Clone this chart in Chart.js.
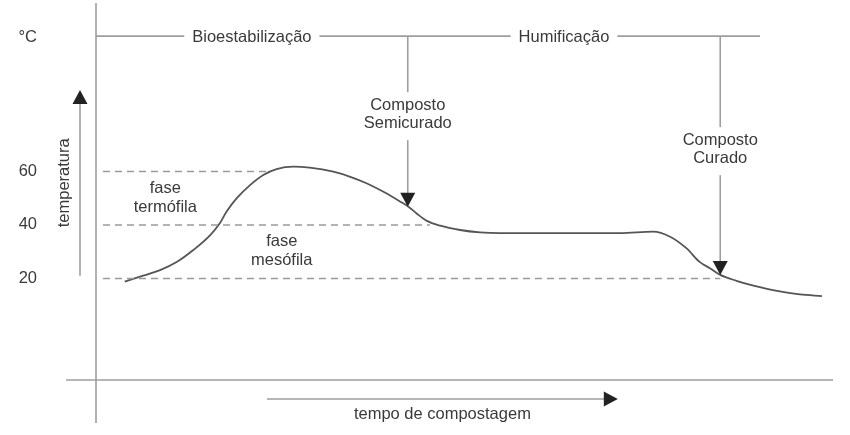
<!DOCTYPE html>
<html><head><meta charset="utf-8">
<script src="https://cdn.jsdelivr.net/npm/chart.js@4.4.0/dist/chart.umd.min.js"></script>
<style>html,body{margin:0;padding:0;background:#fff}#wrap{width:850px;height:435px;position:relative}</style>
</head><body><div id="wrap"><canvas id="c"></canvas></div>
<script>
// ---- data ----
const timeUnits   = [3.9, 6.4, 8.7, 11.0, 13.2, 15.5, 16.8, 17.7, 19.1, 20.9, 22.7, 24.5, 26.8, 29.0, 32.2, 34.5, 36.7, 39.0, 41.3, 42.4, 43.5, 44.9, 46.7, 49.4, 52.1, 54.8, 63.0, 71.1, 75.6, 77.9, 80.1, 81.9, 83.3, 84.7, 86.9, 89.2, 92.4, 95.5, 98.5];
const temperature = [18.8, 21.0, 23.1, 26.2, 30.6, 36.2, 40.6, 44.9, 50.0, 54.9, 58.7, 60.9, 61.8, 61.4, 59.9, 58.0, 55.6, 52.4, 48.7, 46.8, 44.3, 41.5, 39.7, 38.1, 37.2, 36.9, 36.9, 36.9, 37.5, 35.6, 31.3, 26.2, 23.8, 21.3, 19.1, 17.3, 15.3, 14.0, 13.4];
const tickValues  = [20, 40, 60];
const refLevels   = [60, 40, 20];
const refStart    = 0.95;
const refEnds     = [23.6, 45.3, 84.7];
const phaseNames  = ['Bioestabilização', 'Humificação'];
const phaseBounds = [0, 42.3, 84.7];
const phaseLineEnd = 90.1;
const phaseLevel  = 110.6;
const markerNames = [['Composto', 'Semicurado'], ['Composto', 'Curado']];
const markerTimes = [42.3, 84.7];
const markerTips  = [46.8, 21.3];
const stageNames  = [['fase', 'termófila'], ['fase', 'mesófila']];
const stageTimes  = [9.4, 25.2];
const stageTemps  = [50.2, 30.3];
const yUnit  = '°C';
const yTitle = 'temperatura';
const xTitle = 'tempo de compostagem';
const yArrowRange = [21, 90.5];
const xArrowRange = [23.2, 70.8];

// ---- styling ----
const FONT = '16.5px "Liberation Sans", Arial, sans-serif';
const TEXT = '#3a3a3a';
const AXIS = '#9e9e9e';
const HEAD = '#222';

Chart.defaults.font.family = '"Liberation Sans", Arial, sans-serif';
Chart.defaults.font.size = 16.5;

function seg(ctx, x1, y1, x2, y2){ ctx.beginPath(); ctx.moveTo(x1,y1); ctx.lineTo(x2,y2); ctx.stroke(); }
function tri(ctx, tx, ty, dir){
  const L = 14, W = 7.5;
  ctx.beginPath();
  if(dir==='down'){ ctx.moveTo(tx,ty); ctx.lineTo(tx-W,ty-L); ctx.lineTo(tx+W,ty-L); }
  if(dir==='up'){ ctx.moveTo(tx,ty); ctx.lineTo(tx-W,ty+L); ctx.lineTo(tx+W,ty+L); }
  if(dir==='right'){ ctx.moveTo(tx,ty); ctx.lineTo(tx-L,ty-W); ctx.lineTo(tx-L,ty+W); }
  ctx.closePath(); ctx.fill();
}

const deco = {
  id: 'deco',
  beforeDatasetsDraw(chart){
    const {ctx, chartArea:a, scales:{x, y}} = chart;
    ctx.save();
    ctx.strokeStyle = AXIS; ctx.lineWidth = 1.6;
    const x0 = x.getPixelForValue(0);
    const yb = y.getPixelForValue(y.min);
    seg(ctx, x0, a.top, x0, yb + 43);
    seg(ctx, x0 - 30, yb, a.right, yb);
    ctx.restore();
  },
  afterDatasetsDraw(chart){
    const {ctx, scales:{x, y}} = chart;
    ctx.save();
    ctx.font = FONT; ctx.fillStyle = TEXT; ctx.textAlign = 'center'; ctx.textBaseline = 'middle';
    ctx.strokeStyle = AXIS; ctx.lineWidth = 1.6;
    const x0 = x.getPixelForValue(0);
    const yb = y.getPixelForValue(y.min);
    const yp = y.getPixelForValue(phaseLevel);

    // phase line with labels
    let cursor = x0;
    phaseNames.forEach((name, i) => {
      const cx = x.getPixelForValue((phaseBounds[i] + phaseBounds[i+1]) / 2);
      const w = ctx.measureText(name).width;
      seg(ctx, cursor, yp, cx - w/2 - 8, yp);
      ctx.fillText(name, cx, yp + 1);
      cursor = cx + w/2 + 8;
    });
    seg(ctx, cursor, yp, x.getPixelForValue(phaseLineEnd), yp);

    // markers
    const labelOffsets = [78, 113];
    markerNames.forEach((lines, i) => {
      const mx = x.getPixelForValue(markerTimes[i]);
      const tip = y.getPixelForValue(markerTips[i]);
      const cy = yp + labelOffsets[i];
      const top = cy - 9 - 13, bot = cy + 9 + 17;
      ctx.strokeStyle = AXIS;
      seg(ctx, mx, yp, mx, top);
      seg(ctx, mx, bot, mx, tip - 10);
      ctx.fillStyle = TEXT;
      ctx.fillText(lines[0], mx, cy - 9);
      ctx.fillText(lines[1], mx, cy + 9.5);
      ctx.fillStyle = HEAD;
      tri(ctx, mx, tip, 'down');
    });

    // stage labels
    ctx.fillStyle = TEXT;
    stageNames.forEach((lines, i) => {
      const sx = x.getPixelForValue(stageTimes[i]);
      const sy = y.getPixelForValue(stageTemps[i]);
      ctx.fillText(lines[0], sx, sy - 9.5);
      ctx.fillText(lines[1], sx, sy + 9.5);
    });

    // temperature arrow
    const ax = x0 - 16;
    const ay1 = y.getPixelForValue(yArrowRange[0]), ay2 = y.getPixelForValue(yArrowRange[1]);
    ctx.strokeStyle = AXIS;
    seg(ctx, ax, ay1, ax, ay2 + 8);
    ctx.fillStyle = HEAD; tri(ctx, ax, ay2, 'up');
    ctx.fillStyle = TEXT;
    ctx.save();
    ctx.translate(ax - 16, (ay1 + ay2) / 2);
    ctx.rotate(-Math.PI / 2);
    ctx.fillText(yTitle, 0, 0);
    ctx.restore();

    // unit
    ctx.textAlign = 'right';
    ctx.fillText(yUnit, x0 - 59, yp + 1);
    ctx.textAlign = 'center';

    // time arrow
    const tx1 = x.getPixelForValue(xArrowRange[0]), tx2 = x.getPixelForValue(xArrowRange[1]);
    const ty = yb + 19;
    ctx.strokeStyle = AXIS;
    seg(ctx, tx1, ty, tx2 - 8, ty);
    ctx.fillStyle = HEAD; tri(ctx, tx2, ty, 'right');
    ctx.fillStyle = TEXT;
    ctx.fillText(xTitle, (tx1 + tx2) / 2, ty + 15);
    ctx.restore();
  }
};

const datasets = refLevels.map((lvl, i) => ({
  data: [{x: refStart, y: lvl}, {x: refEnds[i], y: lvl}],
  borderColor: '#9a9a9a', borderWidth: 1.5, borderDash: [7, 5], pointRadius: 0, tension: 0
}));
datasets.push({
  data: timeUnits.map((t, i) => ({x: t, y: temperature[i]})),
  borderColor: '#555', borderWidth: 1.8, pointRadius: 0,
  cubicInterpolationMode: 'monotone', tension: 0.4
});

new Chart(document.getElementById('c'), {
  type: 'line',
  data: { datasets },
  plugins: [deco],
  options: {
    responsive: true, maintainAspectRatio: false, animation: false, events: [],
    layout: { padding: { top: 3, bottom: 55, left: 0, right: 17 } },
    plugins: { legend: { display: false }, tooltip: { enabled: false } },
    scales: {
      x: { type: 'linear', min: 0, max: 100, display: false },
      y: {
        type: 'linear', min: -18, max: 123,
        afterBuildTicks(s){ s.ticks = tickValues.map(v => ({ value: v })); },
        afterFit(s){ s.width = 96; s.paddingTop = 0; s.paddingBottom = 0; },
        ticks: { padding: 59, color: TEXT, font: { size: 16.5 } },
        grid: { display: false, drawTicks: false },
        border: { display: false }
      }
    }
  }
});
</script></body></html>
